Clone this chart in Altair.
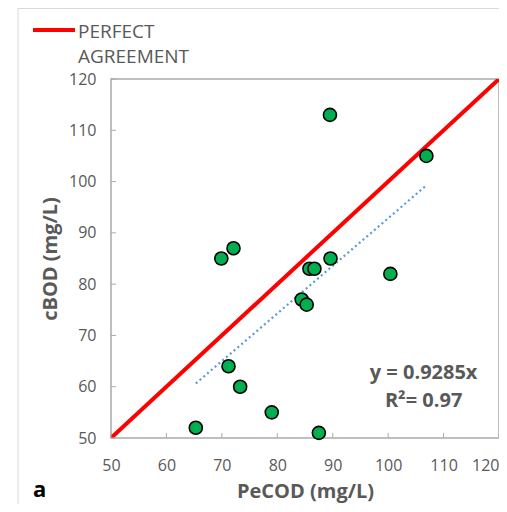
import altair as alt
import pandas as pd

# Data
pecod = [65.3, 69.9, 72.1, 71.2, 73.3, 79.0, 87.5, 84.4, 85.3, 85.8, 86.7, 89.6, 89.5, 100.4, 106.9]
cbod = [52, 85, 87, 64, 60, 55, 51, 77, 76, 83, 83, 85, 113, 82, 105]
slope = 0.9285
perfect_x = [50, 120]
x_ticks = [50, 60, 70, 80, 90, 100, 110, 120]
y_ticks = [50, 60, 70, 80, 90, 100, 110, 120]
eq_lines = ["y = 0.9285x", "R\u00b2= 0.97"]
eq_x = [106.4, 106.4]
eq_y = [61.5, 56.0]
legend_lines = ["PERFECT", "AGREEMENT"]

W, H = 388, 359
GRAY = "#595959"
FONT = "Open Sans"

xs = alt.Scale(domain=[50, 120], nice=False, zero=False)
ys = alt.Scale(domain=[50, 120], nice=False, zero=False)

pts = pd.DataFrame({"x": pecod, "y": cbod})
perfect = pd.DataFrame({"x": perfect_x, "y": perfect_x})
trend = pd.DataFrame({"x": [min(pecod), max(pecod)],
                      "y": [slope * min(pecod), slope * max(pecod)]})
eq = pd.DataFrame({"t": eq_lines, "x": eq_x, "y": eq_y})
xt = pd.DataFrame({"v": x_ticks})
yt = pd.DataFrame({"v": y_ticks})
one = pd.DataFrame({"k": [0]})

xaxis = alt.Axis(values=x_ticks, grid=False, ticks=False, domain=False, labelFlush=False,
                 labelAlign=alt.condition("datum.value >= 120", alt.value("right"),
                                          alt.value("center")),
                 labelFontSize=16, labelColor=GRAY, labelFont=FONT, labelPadding=19,
                 title="PeCOD (mg/L)", titleFontSize=20, titleFontWeight="bold",
                 titleColor=GRAY, titleFont=FONT, titlePadding=8)
yaxis = alt.Axis(values=y_ticks, grid=False, ticks=False, domain=False, labelFlush=False,
                 labelFontSize=16, labelColor=GRAY, labelFont=FONT, labelPadding=15,
                 title="cBOD (mg/L)", titleFontSize=20, titleFontWeight="bold",
                 titleColor=GRAY, titleFont=FONT, titlePadding=8)

border = alt.Chart(one).mark_rect(filled=False, stroke="#D9D9D9", strokeWidth=1).encode(
    x=alt.value(-93), x2=alt.value(520), y=alt.value(-70.5), y2=alt.value(600))

line_perfect = alt.Chart(perfect).mark_line(color="#FF0000", strokeWidth=4, clip=True).encode(
    x=alt.X("x:Q", scale=xs, axis=xaxis),
    y=alt.Y("y:Q", scale=ys, axis=yaxis))

line_trend = alt.Chart(trend).mark_line(color="#5B9BD5", strokeWidth=2.2,
                                        strokeDash=[2, 3]).encode(
    x=alt.X("x:Q", scale=xs), y=alt.Y("y:Q", scale=ys))

points = alt.Chart(pts).mark_point(filled=True, fill="#00B050", stroke="#000000",
                                   strokeWidth=1.6, size=170, opacity=1,
                                   fillOpacity=1, shape="circle").encode(
    x=alt.X("x:Q", scale=xs), y=alt.Y("y:Q", scale=ys))

xtick = alt.Chart(xt).mark_rule(color="#AAAAAA", strokeWidth=1).encode(
    x=alt.X("v:Q", scale=xs), y=alt.value(H), y2=alt.value(H - 5))
ytick = alt.Chart(yt).mark_rule(color="#AAAAAA", strokeWidth=1).encode(
    y=alt.Y("v:Q", scale=ys), x=alt.value(0), x2=alt.value(5))

eq_text = alt.Chart(eq).mark_text(font=FONT, fontSize=20, fontWeight="bold", color=GRAY,
                                  align="center", baseline="alphabetic").encode(
    x=alt.X("x:Q", scale=xs), y=alt.Y("y:Q", scale=ys), text="t:N")

leg_line = alt.Chart(one).mark_rule(color="#FF0000", strokeWidth=4).encode(
    x=alt.value(-78), x2=alt.value(-36), y=alt.value(-49))
leg_t1 = alt.Chart(one).mark_text(text=legend_lines[0], font=FONT, fontSize=19, color=GRAY,
                                  align="left", baseline="alphabetic").encode(
    x=alt.value(-33), y=alt.value(-41))
leg_t2 = alt.Chart(one).mark_text(text=legend_lines[1], font=FONT, fontSize=19, color=GRAY,
                                  align="left", baseline="alphabetic").encode(
    x=alt.value(-33), y=alt.value(-16))
label_a = alt.Chart(one).mark_text(text="a", font=FONT, fontSize=22, fontWeight="bold",
                                   color="#000000", align="left",
                                   baseline="alphabetic").encode(
    x=alt.value(-78), y=alt.value(418))

chart = alt.layer(border, line_perfect, line_trend, points, xtick, ytick, eq_text,
                  leg_line, leg_t1, leg_t2, label_a).properties(
    width=W, height=H,
    autosize=alt.AutoSizeParams(type="none"),
    padding={"left": 103, "top": 71, "right": 0, "bottom": 66},
    background="white",
).configure_view(stroke="#AAAAAA", strokeWidth=1.5)

chart.save("out.html", embed_options={"renderer": "svg", "actions": False})
